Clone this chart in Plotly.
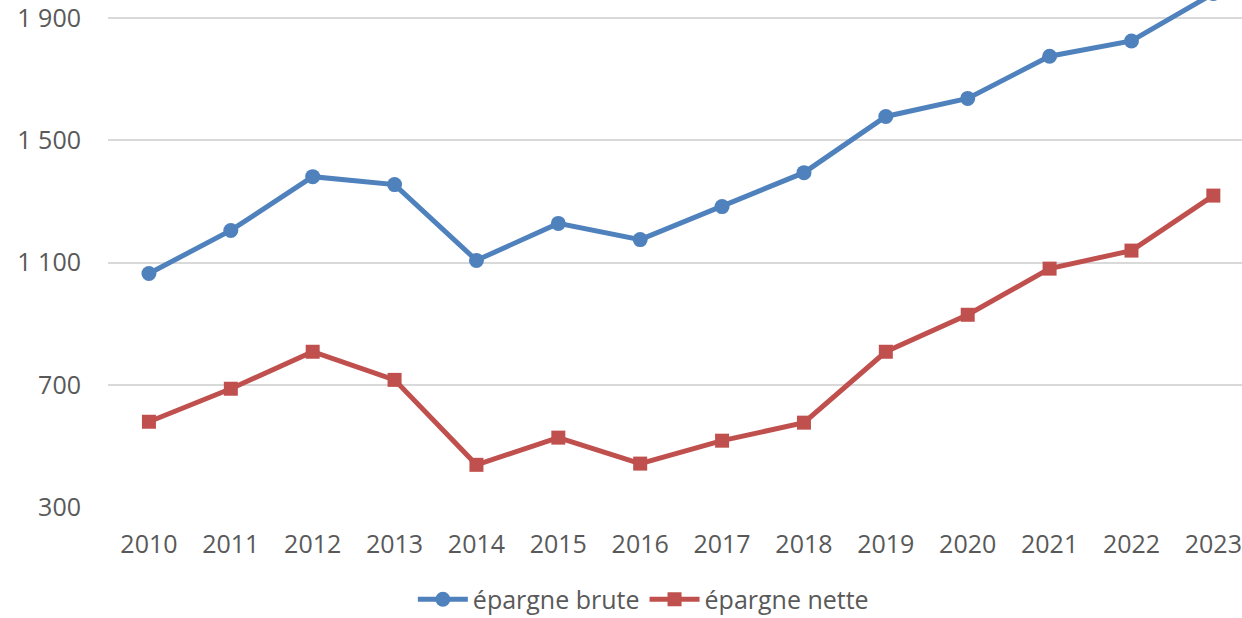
import plotly.graph_objects as go

years = ["2010", "2011", "2012", "2013", "2014", "2015", "2016", "2017", "2018", "2019", "2020", "2021", "2022", "2023"]
brute = [1064, 1205, 1381, 1355, 1107, 1228, 1175, 1283, 1394, 1578, 1637, 1775, 1825, 1980]
nette = [579, 687, 808, 716, 438, 527, 442, 517, 576, 808, 929, 1080, 1139, 1319]
y_ticks = [300, 700, 1100, 1500, 1900]
y_labels = ["300", "700", "1 100", "1 500", "1 900"]

font_family = "Open Sans, Liberation Sans, sans-serif"
grey = "#595959"
fs = 25

fig = go.Figure()
fig.add_trace(go.Scatter(
    x=years, y=brute, name="épargne brute", mode="lines+markers",
    line=dict(color="#4F81BD", width=5),
    marker=dict(symbol="circle", size=15, color="#4F81BD"),
))
fig.add_trace(go.Scatter(
    x=years, y=nette, name="épargne nette", mode="lines+markers",
    line=dict(color="#C0504D", width=5),
    marker=dict(symbol="square", size=14, color="#C0504D"),
))

fig.update_layout(
    width=1242, height=618,
    margin=dict(l=108, r=0, t=0, b=111, autoexpand=False),
    paper_bgcolor="white", plot_bgcolor="white",
    font=dict(family=font_family, size=fs, color=grey),
    hovermode=False,
    showlegend=True,
    legend=dict(orientation="h", xref="container", x=0.518, xanchor="center",
                yref="container", y=0.03, yanchor="middle",
                font=dict(size=fs, color=grey), itemwidth=50),
    xaxis=dict(type="category", range=[-0.5, 13.35], showgrid=False,
               showline=False, zeroline=False, ticks="", ticklabelstandoff=20,
               ticklabeloverflow="allow",
               tickfont=dict(size=fs, color=grey)),
    yaxis=dict(range=[300, 1959], tickvals=y_ticks, ticktext=y_labels,
               showgrid=True, gridcolor="#D9D9D9", gridwidth=2,
               zeroline=False, showline=False, ticks="", ticklabelstandoff=26,
               ticklabeloverflow="allow",
               tickfont=dict(size=fs, color=grey)),
)

fig.write_html(
    "out.html",
    config={"displayModeBar": False, "staticPlot": True},
    post_script="document.body.style.margin='0';document.body.style.overflow='hidden';",
)
